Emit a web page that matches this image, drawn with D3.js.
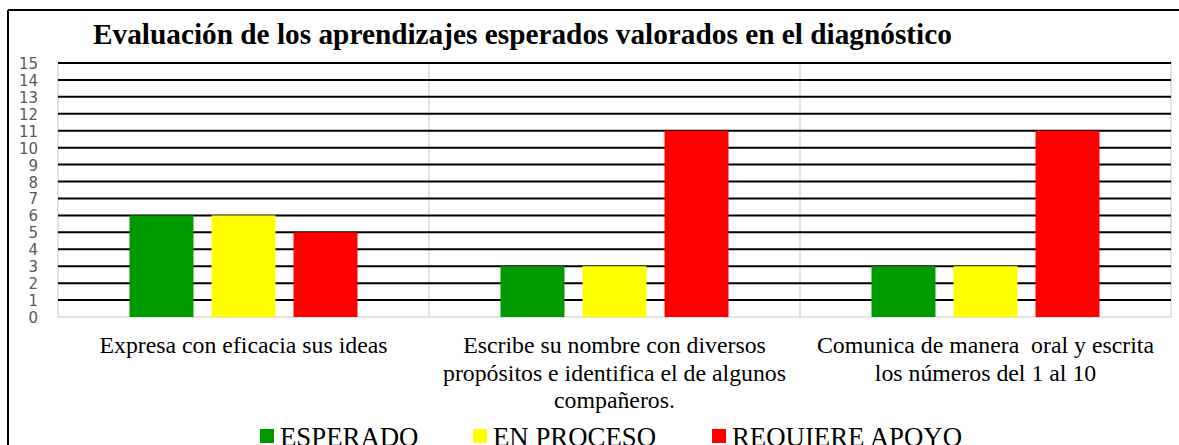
<!DOCTYPE html>
<html>
<head>
<meta charset="utf-8">
<script src="https://cdn.jsdelivr.net/npm/d3@7"></script>
<style>
  body { margin: 0; background: #fff; }
  svg { display: block; }
</style>
</head>
<body>
<div id="chart"></div>
<script>
// data
var categories = [
    ["Expresa con eficacia sus ideas"],
    ["Escribe su nombre con diversos", "propósitos e identifica el de algunos", "compañeros."],
    ["Comunica de manera  oral y escrita", "los números del 1 al 10"]
];
var seriesNames = ["ESPERADO", "EN PROCESO", "REQUIERE APOYO"];
var seriesColors = ["#009900", "#ffff00", "#ff0000"];
var esperado = [6, 3, 3];
var enProceso = [6, 3, 3];
var requiereApoyo = [5, 11, 11];
var yTicks = d3.range(0, 16);

var W = 1179, H = 445;
var margin = {top: 63, right: 8, bottom: 128, left: 58},
    width = W - margin.left - margin.right,
    height = H - margin.top - margin.bottom;

var serif = "'Liberation Serif', 'Times New Roman', serif";

var svg = d3.select("#chart")
    .append("svg")
    .attr("width", W)
    .attr("height", H);

// outer frame (only top + left visible in the crop)
svg.append("line")
    .attr("x1", 8).attr("x2", W).attr("y1", 10).attr("y2", 10)
    .attr("stroke", "#000").attr("stroke-width", 2);
svg.append("line")
    .attr("x1", 8).attr("x2", 8).attr("y1", 10).attr("y2", H)
    .attr("stroke", "#000").attr("stroke-width", 2);

svg.append("text")
    .attr("x", 93)
    .attr("y", 44)
    .attr("font-family", serif)
    .attr("font-weight", "bold")
    .attr("font-size", 29.3)
    .attr("fill", "#000")
    .text("Evaluación de los aprendizajes esperados valorados en el diagnóstico");

var x0 = d3.scaleBand()
    .domain(d3.range(categories.length))
    .range([0, width]);

var x1 = d3.scaleBand()
    .domain(d3.range(seriesNames.length))
    .range([0, 228])
    .paddingInner(0.22);

var y = d3.scaleLinear().domain([0, 15]).range([height, 0]);

var g = svg.append("g")
    .attr("transform", "translate(" + margin.left + "," + margin.top + ")");

// plot border
g.append("rect")
    .attr("x", 0).attr("y", 0)
    .attr("width", width).attr("height", height)
    .attr("fill", "none")
    .attr("stroke", "#d9d9d9")
    .attr("stroke-width", 1.5);

// category separators
g.selectAll(".sep")
    .data(d3.range(1, categories.length))
    .enter().append("line")
    .attr("x1", function (d) { return x0(d); })
    .attr("x2", function (d) { return x0(d); })
    .attr("y1", 0).attr("y2", height)
    .attr("stroke", "#d9d9d9")
    .attr("stroke-width", 1.5);

// gridlines
g.selectAll(".grid")
    .data(yTicks.filter(function (d) { return d > 0; }))
    .enter().append("line")
    .attr("x1", 0).attr("x2", width)
    .attr("y1", function (d) { return y(d); })
    .attr("y2", function (d) { return y(d); })
    .attr("stroke", "#000")
    .attr("stroke-width", 2);

// bars
var series = [esperado, enProceso, requiereApoyo];
var groups = g.selectAll(".grp")
    .data(categories)
    .enter().append("g")
    .attr("transform", function (d, i) {
        return "translate(" + (x0(i) + (x0.bandwidth() - 228) / 2) + ",0)";
    });

groups.selectAll("rect")
    .data(function (d, i) { return series.map(function (s, j) { return {s: j, v: s[i]}; }); })
    .enter().append("rect")
    .attr("x", function (d) { return x1(d.s); })
    .attr("width", x1.bandwidth())
    .attr("y", function (d) { return y(d.v); })
    .attr("height", function (d) { return height - y(d.v); })
    .attr("fill", function (d) { return seriesColors[d.s]; });

// y labels (bottom one is clipped like the original)
svg.append("clipPath").attr("id", "yclip")
    .append("rect").attr("x", 0).attr("y", 50).attr("width", 56).attr("height", 273);

svg.append("g").attr("clip-path", "url(#yclip)")
    .selectAll("text")
    .data(yTicks)
    .enter().append("text")
    .attr("x", 38)
    .attr("y", function (d) { return margin.top + y(d) + 6; })
    .attr("text-anchor", "end")
    .attr("font-family", "'DejaVu Sans', sans-serif")
    .attr("font-size", 15)
    .attr("fill", "#595959")
    .text(function (d) { return d; });

// category labels
var catLab = svg.selectAll(".cat")
    .data(categories)
    .enter().append("text")
    .attr("text-anchor", "middle")
    .attr("font-family", serif)
    .attr("font-size", 23.8)
    .attr("fill", "#000")
    .style("white-space", "pre");

catLab.selectAll("tspan")
    .data(function (d, i) { return d.map(function (t) { return {t: t, i: i}; }); })
    .enter().append("tspan")
    .attr("x", function (d) { return margin.left + x0(d.i) + x0.bandwidth() / 2; })
    .attr("y", function (d, k) { return 353 + k * 27.5; })
    .text(function (d) { return d.t; });

// legend
var legendX = [260, 473, 712];
var leg = svg.selectAll(".leg")
    .data(seriesNames)
    .enter().append("g")
    .attr("transform", function (d, i) { return "translate(" + legendX[i] + ",0)"; });

leg.append("rect")
    .attr("x", 0).attr("y", 429)
    .attr("width", 14).attr("height", 14)
    .attr("fill", function (d, i) { return seriesColors[i]; });

leg.append("text")
    .attr("x", 20)
    .attr("y", 446)
    .attr("font-family", serif)
    .attr("font-size", 26.8)
    .attr("fill", "#000")
    .text(function (d) { return d; });
</script>
</body>
</html>
